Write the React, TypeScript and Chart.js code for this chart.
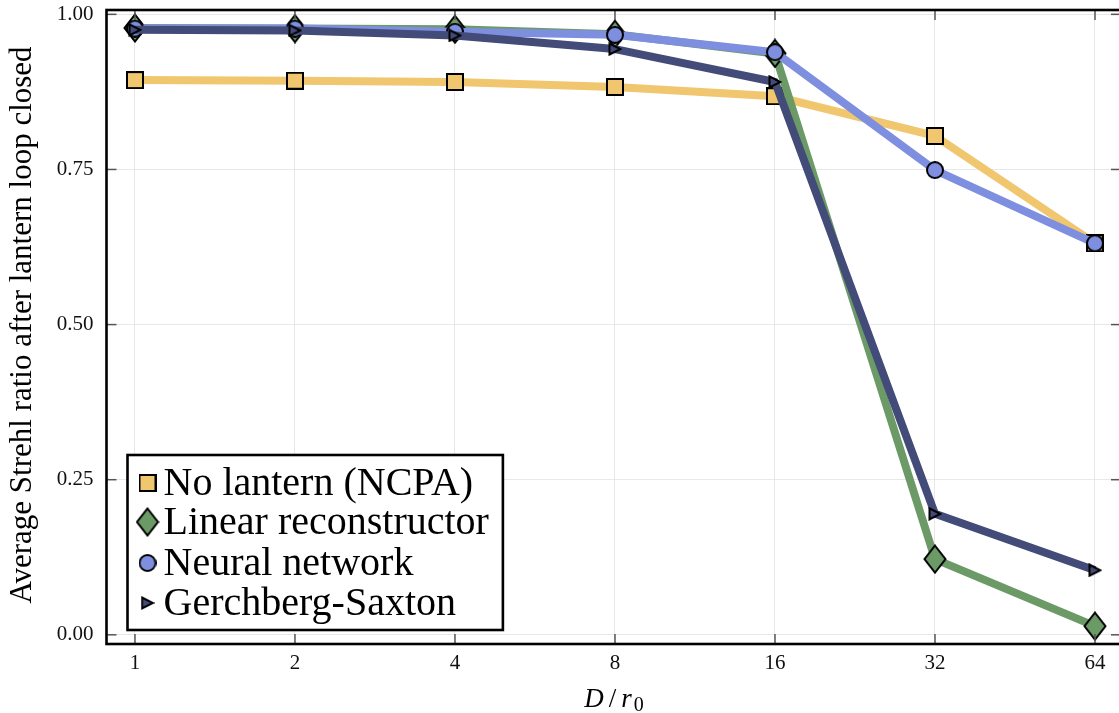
import React, { useEffect, useRef } from 'react';
import { Chart, registerables } from 'chart.js';

Chart.register(...registerables);

// ---- data ----
const dValues = [1, 2, 4, 8, 16, 32, 64];
const yTickValues = [0, 0.25, 0.5, 0.75, 1.0];
const seriesLabels = ['No lantern (NCPA)', 'Linear reconstructor', 'Neural network', 'Gerchberg-Saxton'];
const noLantern = [0.894, 0.893, 0.891, 0.883, 0.868, 0.804, 0.631];
const linearRecon = [0.978, 0.977, 0.976, 0.968, 0.937, 0.122, 0.014];
const neuralNet = [0.977, 0.977, 0.972, 0.967, 0.939, 0.749, 0.631];
const gerchbergSaxton = [0.975, 0.974, 0.966, 0.944, 0.891, 0.195, 0.104];
const seriesColors = ['#F0C66E', '#6B9A67', '#7F8FE0', '#434B78'];
const markerKinds = ['square', 'diamond', 'circle', 'triangle'];
const xTitle = ['D', '/', 'r', '0'];
const yTitle = 'Average Strehl ratio after lantern loop closed';

const SERIF = '"Liberation Serif", "DejaVu Serif", serif';

function makeMarker(kind: string, fill: string): HTMLCanvasElement {
  const c = document.createElement('canvas');
  let w = 18, h = 18;
  if (kind === 'diamond') { w = 24; h = 30; }
  if (kind === 'triangle') { w = 14; h = 14; }
  c.width = w; c.height = h;
  const g = c.getContext('2d')!;
  g.fillStyle = fill;
  g.strokeStyle = '#000';
  g.lineWidth = 2;
  g.lineJoin = 'miter';
  g.beginPath();
  if (kind === 'square') {
    g.rect(1, 1, w - 2, h - 2);
  } else if (kind === 'circle') {
    g.arc(w / 2, h / 2, w / 2 - 1, 0, Math.PI * 2);
  } else if (kind === 'diamond') {
    g.moveTo(w / 2, 1.5);
    g.lineTo(w - 1.5, h / 2);
    g.lineTo(w / 2, h - 1.5);
    g.lineTo(1.5, h / 2);
    g.closePath();
  } else {
    g.moveTo(1.5, 1.5);
    g.lineTo(w - 1.5, h / 2);
    g.lineTo(1.5, h - 1.5);
    g.closePath();
  }
  g.fill();
  g.stroke();
  return c;
}

const zeroPad = (s: any) => {
  s.paddingTop = 0; s.paddingBottom = 0; s.paddingLeft = 0; s.paddingRight = 0;
};

export default function App() {
  const ref = useRef<HTMLCanvasElement | null>(null);

  useEffect(() => {
    const prevMargin = document.body.style.margin;
    document.body.style.margin = '0';
    const markers = markerKinds.map((k, i) => makeMarker(k, seriesColors[i]));
    const seriesValues = [noLantern, linearRecon, neuralNet, gerchbergSaxton];

    const decor = {
      id: 'decor',
      afterDatasetsDraw(chart: any) {
        const { ctx, chartArea: a, scales } = chart;
        ctx.save();
        ctx.strokeStyle = '#555';
        ctx.lineWidth = 1.5;
        const line = (x1: number, y1: number, x2: number, y2: number) => {
          ctx.beginPath(); ctx.moveTo(x1, y1); ctx.lineTo(x2, y2); ctx.stroke();
        };
        yTickValues.forEach(v => {
          const y = scales.y.getPixelForValue(v);
          line(a.left, y, a.left + 10, y);
          line(a.right, y, a.right - 10, y);
        });
        dValues.forEach(v => {
          const x = scales.x.getPixelForValue(v);
          line(x, a.bottom, x, a.bottom - 10);
          line(x, a.top, x, a.top + 10);
        });
        ctx.strokeStyle = '#000';
        ctx.lineWidth = 2.6;
        ctx.strokeRect(a.left, a.top, a.right - a.left, a.bottom - a.top);
        ctx.restore();
      },
      afterDraw(chart: any) {
        const { ctx, chartArea: a } = chart;
        ctx.save();
        // legend
        ctx.font = `40px ${SERIF}`;
        const maxW = Math.max(...seriesLabels.map(s => ctx.measureText(s).width));
        const bx = a.left + 21;
        const bw = 36 + maxW + 14;
        const bh = 175;
        const by = a.bottom - 14 - bh;
        ctx.fillStyle = '#fff';
        ctx.fillRect(bx, by, bw, bh);
        ctx.strokeStyle = '#000';
        ctx.lineWidth = 2.6;
        ctx.strokeRect(bx, by, bw, bh);
        const rowY = [28, 67, 108, 148];
        seriesLabels.forEach((s, i) => {
          const cy = by + rowY[i];
          const m = markers[i];
          ctx.drawImage(m, bx + 20 - m.width / 2, cy - m.height / 2);
          ctx.fillStyle = '#000';
          ctx.textBaseline = 'alphabetic';
          ctx.textAlign = 'left';
          ctx.fillText(s, bx + 36, cy + 12);
        });
        // y title
        ctx.save();
        ctx.translate(31, (a.top + a.bottom) / 2 - 2);
        ctx.rotate(-Math.PI / 2);
        ctx.font = `31px ${SERIF}`;
        ctx.textAlign = 'center';
        ctx.textBaseline = 'alphabetic';
        ctx.fillStyle = '#000';
        ctx.fillText(yTitle, 0, 0);
        ctx.restore();
        // x title  D/r0
        const cx = 614;
        const base = 707;
        ctx.fillStyle = '#000';
        ctx.textAlign = 'left';
        ctx.font = `italic 27px ${SERIF}`;
        const wD = ctx.measureText(xTitle[0]).width;
        ctx.font = `27px ${SERIF}`;
        const wS = ctx.measureText(xTitle[1]).width;
        ctx.font = `italic 27px ${SERIF}`;
        const wR = ctx.measureText(xTitle[2]).width;
        ctx.font = `20px ${SERIF}`;
        const w0 = ctx.measureText(xTitle[3]).width;
        const gap1 = 5, gap2 = 5, gap3 = 2;
        const total = wD + gap1 + wS + gap2 + wR + gap3 + w0;
        let x = cx - total / 2;
        ctx.font = `italic 27px ${SERIF}`;
        ctx.fillText(xTitle[0], x, base); x += wD + gap1;
        ctx.font = `27px ${SERIF}`;
        ctx.fillText(xTitle[1], x, base); x += wS + gap2;
        ctx.font = `italic 27px ${SERIF}`;
        ctx.fillText(xTitle[2], x, base); x += wR + gap3;
        ctx.font = `20px ${SERIF}`;
        ctx.fillText(xTitle[3], x, base + 4);
        ctx.restore();
      },
    };

    const chart = new Chart(ref.current!, {
      type: 'line',
      data: {
        datasets: seriesValues.map((vals, i) => ({
          label: seriesLabels[i],
          data: vals.map((v, j) => ({ x: dValues[j], y: v })),
          borderColor: seriesColors[i],
          backgroundColor: seriesColors[i],
          borderWidth: 8,
          borderJoinStyle: 'round' as const,
          pointStyle: markers[i],
          pointRadius: 9,
          pointHoverRadius: 9,
          pointBorderWidth: 0,
          tension: 0,
          fill: false,
          order: 3 - i,
        })),
      },
      options: {
        animation: false,
        responsive: true,
        maintainAspectRatio: false,
        events: [],
        layout: { autoPadding: false, padding: { top: 10, right: 0, left: 0, bottom: 0 } },
        plugins: { legend: { display: false }, tooltip: { enabled: false } },
        scales: {
          x: {
            type: 'logarithmic',
            min: Math.pow(2, -0.178),
            max: 64 * Math.pow(2, 0.1625),
            afterBuildTicks: (s: any) => { s.ticks = dValues.map(v => ({ value: v })); },
            afterFit: (s: any) => { s.height = 69; zeroPad(s); },
            grid: { color: '#e8e8e8', lineWidth: 1, drawTicks: false },
            border: { display: false },
            ticks: {
              autoSkip: false,
              maxRotation: 0,
              padding: 7,
              color: '#111',
              font: { family: SERIF, size: 21 },
              callback: (v: any) => String(v),
            },
          },
          y: {
            type: 'linear',
            min: -0.0148,
            max: 1.007,
            afterBuildTicks: (s: any) => { s.ticks = yTickValues.map(v => ({ value: v })); },
            afterFit: (s: any) => { s.width = 106.5; zeroPad(s); },
            grid: { color: '#e8e8e8', lineWidth: 1, drawTicks: false },
            border: { display: false },
            ticks: {
              padding: 13,
              color: '#111',
              font: { family: SERIF, size: 21 },
              callback: (v: any) => Number(v).toFixed(2),
            },
          },
        },
      },
      plugins: [decor],
    });

    return () => {
      chart.destroy();
      document.body.style.margin = prevMargin;
    };
  }, []);

  return (
    <div style={{ position: 'fixed', left: 0, top: 0, width: 1119, height: 713, overflow: 'hidden', background: '#fff' }}>
      <div style={{ position: 'absolute', left: 0, top: 0, width: 1121, height: 713 }}>
        <canvas ref={ref} />
      </div>
    </div>
  );
}
